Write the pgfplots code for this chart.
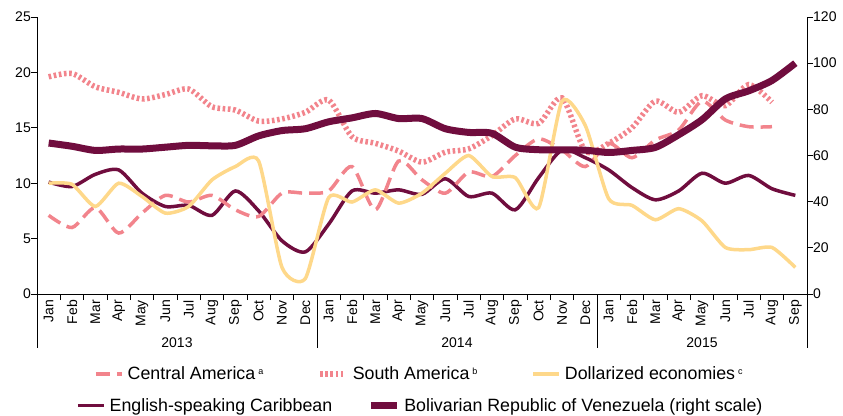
\documentclass[border=0pt]{standalone}
\usepackage{pgfplots}
\pgfplotsset{compat=1.18}
\usepackage{fontspec}
\setmainfont{Liberation Sans}
\definecolor{maroon}{RGB}{112,13,62}
\definecolor{pinkc}{RGB}{242,132,140}
\definecolor{yell}{RGB}{254,216,138}
\begin{document}
\begin{tikzpicture}
\pgfplotsset{
  every axis/.append style={
    scale only axis, width=770pt, height=277pt, at={(0,0)}, anchor=south west,
    xmin=-0.5, xmax=32.5, clip=false,
    /pgf/number format/assume math mode=true,
    tick label style={font=\fontsize{14}{16}\selectfont},
    axis line style={black, line width=0.8pt},
    tick style={black, line width=0.8pt},
    major tick length=6pt, minor tick length=6pt,
    tick align=outside,
  },
}
\begin{axis}[
  axis x line*=bottom, axis y line*=left,
  ymin=0, ymax=25, ytick={0,5,...,25},
  xtick={0,...,32},
  xticklabels={Jan,Feb,Mar,Apr,May,Jun,Jul,Aug,Sep,Oct,Nov,Dec,Jan,Feb,Mar,Apr,May,Jun,Jul,Aug,Sep,Oct,Nov,Dec,Jan,Feb,Mar,Apr,May,Jun,Jul,Aug,Sep},
  xticklabel style={rotate=90, anchor=east, inner sep=0pt},
  major x tick style={draw=none},
  minor xtick={-0.5,0.5,...,32.5},
  yticklabel style={inner sep=0pt},
  legend columns=3,
  legend image code/.code={\draw[#1] (0pt,0pt) -- (26pt,0pt);},
  legend style={at={(axis description cs:0.074,-0.289)}, anchor=west, draw=none, fill=none,
    inner sep=0pt, font=\fontsize{17.8}{20}\selectfont, nodes={inner sep=0pt},
    /tikz/every odd column/.append style={column sep=4pt},
    /tikz/every even column/.append style={column sep=54pt}},
]
\addplot[maroon, line width=3.5pt, smooth, tension=0.45, forget plot] table {
0 10.1
1 9.7
2 10.8
3 11.2
4 9.1
5 7.9
6 8.0
7 7.1
8 9.3
9 7.5
10 4.8
11 3.8
12 6.3
13 9.3
14 9.1
15 9.4
16 9.0
17 10.4
18 8.8
19 9.1
20 7.6
21 10.5
22 13.0
23 12.3
24 11.2
25 9.6
26 8.5
27 9.3
28 10.9
29 10.0
30 10.7
31 9.5
32 8.9
};
\addplot[pinkc, line width=3.5pt, smooth, tension=0.45, dash pattern=on 14pt off 7pt] table {
0 7.1
1 6.0
2 7.8
3 5.5
4 7.3
5 8.9
6 8.3
7 8.9
8 7.6
9 7.0
10 9.1
11 9.1
12 9.3
13 11.5
14 7.6
15 12.0
16 10.3
17 9.1
18 11.0
19 10.6
20 12.5
21 14.0
22 13.0
23 11.5
24 13.6
25 12.3
26 13.9
27 14.8
28 17.4
29 15.7
30 15.1
31 15.1
};
\addlegendentry{Central America\,\raisebox{0.6ex}{\fontsize{9}{9}\selectfont a}}
\addplot[pinkc, line width=5.5pt, smooth, tension=0.45, dash pattern=on 2.6pt off 2.6pt] table {
0 19.6
1 19.9
2 18.7
3 18.2
4 17.6
5 18.0
6 18.5
7 16.9
8 16.6
9 15.6
10 15.8
11 16.4
12 17.5
13 14.2
14 13.6
15 12.9
16 11.9
17 12.8
18 13.1
19 14.3
20 15.8
21 15.4
22 17.7
23 12.9
24 13.6
25 15.0
26 17.4
27 16.4
28 17.9
29 17.0
30 18.9
31 17.3
};
\addlegendentry{South America\,\raisebox{0.6ex}{\fontsize{9}{9}\selectfont b}}
\addplot[yell, line width=3.5pt, smooth, tension=0.38] table {
0 10.0
1 9.9
2 7.9
3 10.0
4 8.8
5 7.3
6 7.9
7 10.3
8 11.5
9 12.0
10 2.4
11 1.4
12 8.7
13 8.3
14 9.4
15 8.2
16 9.1
17 10.9
18 12.5
19 10.6
20 10.5
21 7.8
22 17.4
23 15.2
24 8.6
25 8.0
26 6.7
27 7.7
28 6.6
29 4.2
30 4.0
31 4.2
32 2.4
};
\addlegendentry{Dollarized economies\,\raisebox{0.6ex}{\fontsize{9}{9}\selectfont c}}
\foreach \s in {-0.5,11.5,23.5,32.5}{
  \edef\tmp{\noexpand\draw[black, line width=0.8pt] (axis cs:\s,0) -- ++(0pt,-54pt);}\tmp
}
\node[font=\fontsize{14}{16}\selectfont] at (axis cs:5.5,0) [yshift=-49pt] {2013};
\node[font=\fontsize{14}{16}\selectfont] at (axis cs:17.5,0) [yshift=-49pt] {2014};
\node[font=\fontsize{14}{16}\selectfont] at (axis cs:28,0) [yshift=-49pt] {2015};
\end{axis}
\begin{axis}[
  axis x line=none, axis y line*=right,
  ymin=0, ymax=120, ytick={0,20,...,120},
  yticklabel style={inner sep=0pt},
  legend columns=2,
  legend image code/.code={\draw[#1] (0pt,0pt) -- (26pt,0pt);},
  legend style={at={(axis description cs:0.0506,-0.403)}, anchor=west, draw=none, fill=none,
    inner sep=0pt, font=\fontsize{17.8}{20}\selectfont, nodes={inner sep=0pt},
    /tikz/every odd column/.append style={column sep=4pt},
    /tikz/every even column/.append style={column sep=35pt}},
]
\addlegendimage{maroon, line width=3.5pt}
\addlegendentry{English-speaking Caribbean}
\addplot[maroon, line width=7pt, smooth, tension=0.45] table {
0 65.4
1 64.0
2 62.2
3 62.8
4 62.8
5 63.6
6 64.4
7 64.2
8 64.4
9 68.5
10 70.8
11 71.6
12 74.6
13 76.3
14 78.2
15 76.0
16 76.0
17 71.6
18 70.0
19 69.6
20 63.6
21 62.5
22 62.4
23 62.3
24 61.3
25 62.2
26 63.5
27 69.0
28 75.5
29 84.5
30 88.0
31 92.5
32 100.0
};
\addlegendentry{Bolivarian Republic of Venezuela (right scale)}
\end{axis}
\pgfresetboundingbox
\path[use as bounding box] (-37pt,-121pt) rectangle (806pt,294pt);
\end{tikzpicture}
\end{document}
